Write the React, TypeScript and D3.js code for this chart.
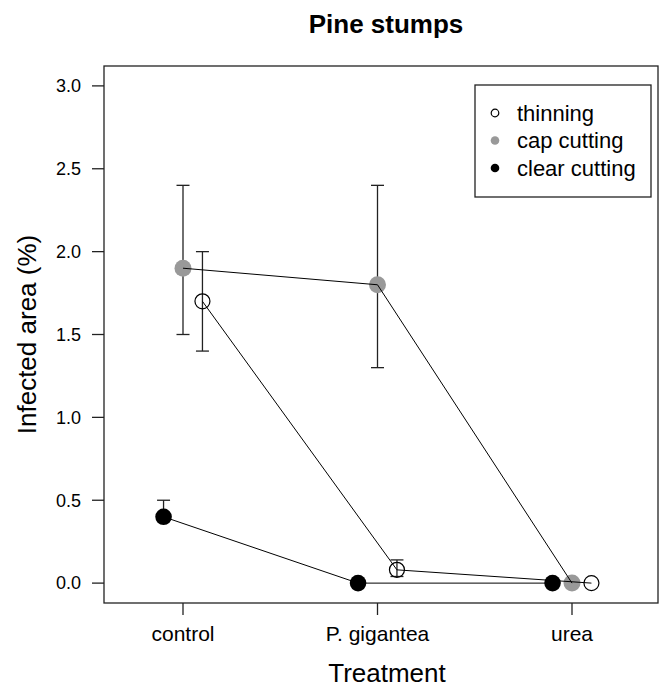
import React from "react";
import * as d3 from "d3";

const treatments = ["control", "P. gigantea", "urea"];
const seriesNames = ["thinning", "cap cutting", "clear cutting"];

// means and error bar limits
const thinningMean = [1.7, 0.08, 0];
const thinningLow = [1.4, 0.04, 0];
const thinningHigh = [2.0, 0.14, 0];

const capMean = [1.9, 1.8, 0];
const capLow = [1.5, 1.3, 0];
const capHigh = [2.4, 2.4, 0];

const clearMean = [0.4, 0, 0];
const clearLow = [0.4, 0, 0];
const clearHigh = [0.5, 0, 0];

const yTicks = [0, 0.5, 1, 1.5, 2, 2.5, 3];

const W = 660, H = 688;
const box = { left: 104, right: 658, top: 66, bottom: 603 };
const font = "Arial, 'Liberation Sans', sans-serif";

const x = d3.scaleLinear().domain([1, 3]).range([183, 572]);
const y = d3.scaleLinear().domain([-0.12, 3.12]).range([box.bottom, box.top]);

type Series = {
  name: string;
  mean: number[];
  low: number[];
  high: number[];
  offset: number;
  fill: string;
  stroke: string;
  r: number;
};

const series: Series[] = [
  { name: seriesNames[0], mean: thinningMean, low: thinningLow, high: thinningHigh, offset: 0.1, fill: "none", stroke: "#000", r: 7.5 },
  { name: seriesNames[1], mean: capMean, low: capLow, high: capHigh, offset: 0, fill: "#999999", stroke: "none", r: 8.5 },
  { name: seriesNames[2], mean: clearMean, low: clearLow, high: clearHigh, offset: -0.1, fill: "#000", stroke: "none", r: 8.3 },
];

const line = d3.line<[number, number]>().x(d => d[0]).y(d => d[1]);

const App = () => {
  const capW = 6.5;
  return (
    <svg width={W} height={H} style={{ position: "absolute", left: 0, top: 0, background: "#fff" }} fontFamily={font}>
      <text x={386} y={33} textAnchor="middle" fontSize={26} fontWeight="bold">Pine stumps</text>

      {/* error bars */}
      {series.map(s => s.mean.map((m, i) => {
        if (s.high[i] <= s.low[i]) return null;
        const cx = x(i + 1 + s.offset);
        return (
          <g key={s.name + i} stroke="#222" strokeWidth={1.3}>
            <line x1={cx} x2={cx} y1={y(s.low[i])} y2={y(s.high[i])} />
            <line x1={cx - capW} x2={cx + capW} y1={y(s.high[i])} y2={y(s.high[i])} />
            <line x1={cx - capW} x2={cx + capW} y1={y(s.low[i])} y2={y(s.low[i])} />
          </g>
        );
      }))}

      {/* points */}
      {series.map(s => s.mean.map((m, i) => (
        <circle key={"p" + s.name + i} cx={x(i + 1 + s.offset)} cy={y(m)} r={s.r}
          fill={s.fill} stroke={s.stroke} strokeWidth={1.2} />
      )))}

      {/* connecting lines */}
      {series.map(s => (
        <path key={"l" + s.name}
          d={line(s.mean.map((m, i) => [x(i + 1 + s.offset), y(m)] as [number, number])) || ""}
          fill="none" stroke="#000" strokeWidth={1} />
      ))}

      {/* frame */}
      <rect x={box.left} y={box.top} width={box.right - box.left} height={box.bottom - box.top}
        fill="none" stroke="#222" strokeWidth={1.3} />

      {/* y axis */}
      {yTicks.map(t => (
        <g key={"y" + t}>
          <line x1={box.left - 12} x2={box.left} y1={y(t)} y2={y(t)} stroke="#222" strokeWidth={1.3} />
          <text x={81} y={y(t)} dy="0.35em" textAnchor="end" fontSize={18}>{d3.format(".1f")(t)}</text>
        </g>
      ))}
      <text transform={`translate(36, ${(box.top + box.bottom) / 2}) rotate(-90)`} textAnchor="middle" fontSize={26}>Infected area (%)</text>

      {/* x axis */}
      {treatments.map((t, i) => (
        <g key={"x" + t}>
          <line x1={x(i + 1)} x2={x(i + 1)} y1={box.bottom} y2={box.bottom + 12} stroke="#222" strokeWidth={1.3} />
          <text x={x(i + 1)} y={641} textAnchor="middle" fontSize={21}>{t}</text>
        </g>
      ))}
      <text x={387} y={682} textAnchor="middle" fontSize={26}>Treatment</text>

      {/* legend */}
      <rect x={475} y={85} width={176} height={112} fill="#fff" stroke="#222" strokeWidth={1.3} />
      {series.map((s, i) => (
        <g key={"lg" + s.name} transform={`translate(0, ${113 + i * 27.5})`}>
          <circle cx={495} cy={0} r={s.fill === "none" ? 3.8 : 4.3} fill={s.fill} stroke={s.stroke} strokeWidth={1.2} />
          <text x={517} y={0} dy="0.35em" fontSize={22}>{s.name}</text>
        </g>
      ))}
    </svg>
  );
};

export default App;
